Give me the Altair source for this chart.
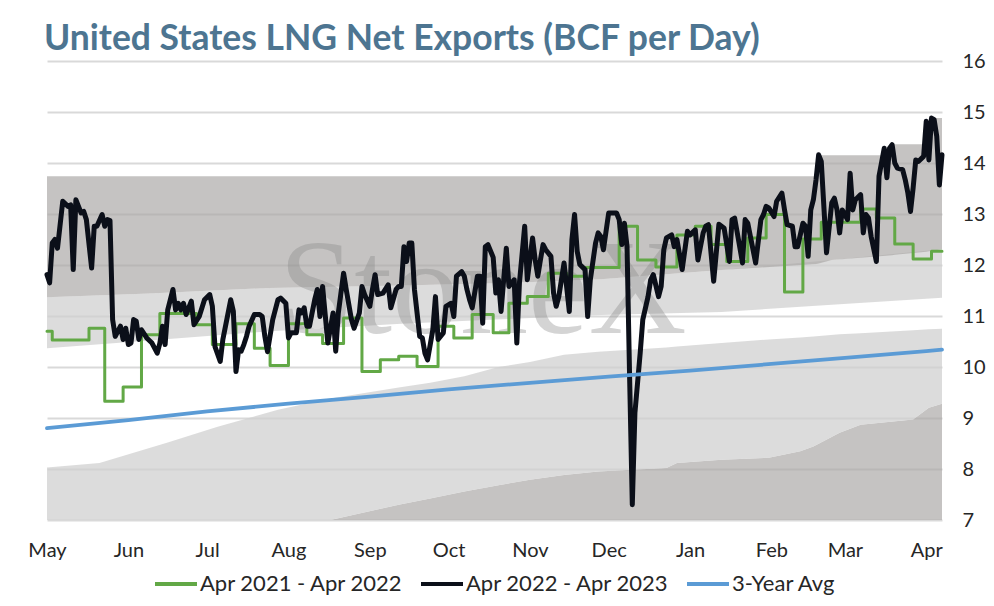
import altair as alt
import pandas as pd

BASE = pd.Timestamp("2022-05-01")

def to_dates(days):
    return [BASE + pd.Timedelta(days=d) for d in days]

# ---------------- series (day offsets from 1 May 2022) ----------------
black_day = [0, 1, 2, 3, 4, 6, 8, 9, 10, 11, 12, 13, 14, 15, 17, 18, 19, 21, 22, 23, 24, 25, 26, 28, 29, 30,
             31, 32, 33, 34, 35, 36, 38, 40, 42, 43, 44, 45, 46, 48, 49, 50, 51, 52, 53, 55, 56, 58, 60, 62,
             63, 64, 66, 67, 69, 70, 71, 72, 73, 74, 75, 76, 77, 79, 81, 82, 83, 84, 86, 88, 89, 91, 92, 93,
             95, 96, 97, 98, 99, 100, 102, 103, 104, 105, 107, 109, 110, 111, 113, 114, 116, 117, 119, 120,
             121, 123, 124, 125, 126, 128, 130, 131, 133, 134, 135, 136, 137, 138, 139, 140, 142, 143, 144,
             145, 147, 148, 149, 151, 152, 154, 155, 156, 158, 159, 160, 161, 162, 164, 165, 166, 167, 168,
             170, 171, 172, 173, 175, 176, 178, 179, 180, 182, 183, 185, 186, 187, 188, 189, 190, 192, 193,
             194, 195, 197, 199, 200, 201, 202, 203, 205, 206, 207, 209, 210, 211, 212, 214, 215, 217, 218,
             219, 220, 221, 222, 223, 224, 226, 227, 229, 230, 231, 233, 234, 235, 236, 238, 239, 240, 242,
             244, 245, 247, 248, 250, 251, 252, 254, 256, 258, 260, 261, 262, 263, 265, 266, 267, 270, 272,
             273, 274, 275, 277, 278, 280, 281, 282, 284, 285, 286, 288, 289, 290, 291, 292, 293, 294, 295,
             297, 299, 300, 301, 302, 303, 305, 306, 307, 308, 310, 311, 312, 313, 314, 316, 317, 319, 320,
             321, 322, 323, 324, 326, 327, 328, 329, 330, 331, 332, 334, 335, 336, 337, 338, 339, 340, 341]
black_val = [11.81, 11.65, 12.43, 12.50, 12.33, 13.25, 13.15, 13.18, 11.91, 13.28, 13.15, 13.02, 13.05, 12.89,
             11.94, 12.76, 12.76, 12.99, 12.76, 12.89, 12.87, 10.93, 10.60, 10.80, 10.54, 10.76, 10.44, 10.47,
             10.93, 10.90, 10.54, 10.73, 10.57, 10.47, 10.27, 10.47, 10.80, 10.44, 11.12, 11.52, 11.12, 11.25,
             11.12, 11.25, 11.03, 11.29, 10.83, 10.99, 11.32, 11.42, 11.19, 10.40, 10.11, 10.54, 11.06, 11.32,
             11.09, 9.91, 10.34, 10.31, 10.44, 10.60, 10.80, 11.03, 11.03, 10.99, 10.60, 10.30, 10.93, 11.32,
             11.35, 11.25, 10.57, 10.67, 10.67, 11.12, 11.06, 11.16, 10.80, 10.80, 11.32, 11.52, 10.99, 11.58,
             10.47, 11.06, 10.31, 11.06, 11.84, 11.52, 10.93, 10.76, 11.06, 11.58, 11.42, 11.19, 11.52, 11.81,
             11.42, 11.45, 11.61, 11.16, 11.52, 11.58, 11.58, 12.36, 12.07, 12.43, 12.43, 11.52, 10.60, 10.57,
             10.27, 10.14, 10.73, 11.38, 10.54, 10.67, 11.19, 11.25, 10.99, 11.78, 11.87, 11.78, 11.52, 11.32,
             11.16, 11.78, 11.78, 10.86, 12.36, 12.40, 12.15, 11.45, 11.71, 11.09, 12.33, 11.58, 11.71, 10.47,
             11.65, 12.76, 11.71, 12.53, 12.10, 11.78, 12.10, 12.40, 12.30, 12.17, 11.45, 11.19, 11.38, 12.04,
             11.09, 12.50, 12.99, 12.27, 12.01, 11.91, 10.99, 11.71, 12.43, 12.63, 12.56, 12.30, 13.02, 13.02,
             13.02, 12.89, 12.40, 12.82, 12.36, 9.75, 7.30, 9.10, 10.27, 10.93, 11.38, 11.71, 11.81, 11.38,
             11.58, 12.30, 12.53, 12.59, 12.36, 12.50, 11.91, 12.66, 12.59, 12.69, 12.10, 12.63, 12.76, 12.79,
             11.68, 12.80, 12.72, 12.07, 12.89, 12.92, 12.63, 12.04, 12.89, 12.82, 12.04, 12.89, 12.99, 13.15,
             13.12, 12.95, 13.25, 13.41, 13.08, 12.79, 12.76, 12.36, 12.36, 12.82, 12.76, 12.17, 13.08, 13.28,
             13.67, 14.16, 14.03, 12.24, 13.22, 13.31, 13.08, 12.63, 13.08, 12.89, 13.80, 13.08, 13.28, 13.38,
             12.63, 12.99, 12.92, 12.56, 12.07, 13.74, 14.29, 13.71, 14.29, 14.36, 14.00, 13.90, 13.87, 13.67,
             13.41, 13.05, 13.51, 14.06, 14.03, 14.13, 14.82, 14.06, 14.88, 14.85, 14.52, 13.57, 14.16]

green_day = [0, 2, 16, 22, 29, 36, 43, 57, 63, 72, 79, 85, 92, 99, 105, 113, 120, 127, 134, 141, 149, 155,
             162, 170, 176, 183, 191, 198, 205, 218, 225, 232, 240, 247, 253, 259, 267, 274, 281, 288, 295,
             310, 316, 323, 330, 337, 341]
green_val = [10.70, 10.53, 10.76, 9.33, 9.61, 10.63, 11.05, 10.83, 10.44, 10.85, 10.37, 10.03, 10.85, 10.63,
             10.46, 10.96, 9.91, 10.14, 10.21, 10.01, 10.80, 10.57, 11.03, 10.67, 11.25, 11.38, 11.84, 11.78,
             11.95, 12.76, 12.10, 11.96, 12.59, 12.76, 12.40, 12.07, 12.53, 12.99, 11.47, 12.51, 12.84, 13.10,
             12.92, 12.41, 12.12, 12.27, 12.27]

blue_day = [0, 31, 61, 92, 123, 153, 184, 214, 245, 276, 304, 335, 341]
blue_val = [8.80, 8.96, 9.13, 9.28, 9.42, 9.56, 9.69, 9.81, 9.93, 10.06, 10.18, 10.31, 10.34]

# ---------------- shaded range bands ----------------
low_day = [0, 20, 46, 65, 88, 108, 134, 146, 159, 172, 184, 197, 210, 236, 240, 257, 275, 287, 292, 302,
           310, 330, 336, 341]
low_b1 = [7.0, 7.0, 7.0, 7.0, 7.0, 7.0, 7.30, 7.42, 7.56, 7.68, 7.79, 7.88, 7.95, 8.02, 8.12, 8.18, 8.22,
          8.35, 8.44, 8.71, 8.87, 8.97, 9.20, 9.28]
low_b2 = [8.03, 8.12, 8.52, 8.83, 9.16, 9.38, 9.60, 9.69, 9.82, 10.00, 10.10, 10.24, 10.30, 10.38, 10.40,
          10.47, 10.54, 10.58, 10.60, 10.64, 10.66, 10.72, 10.74, 10.75]

up_day = [0, 39, 85, 135, 171, 211, 257, 299, 341]
up_b3 = [10.37, 10.52, 10.70, 10.85, 10.93, 11.02, 11.08, 11.22, 11.36]
up_b4 = [11.37, 11.44, 11.55, 11.60, 11.64, 11.72, 11.90, 12.10, 12.31]

top_day = [0, 39, 85, 135, 171, 211, 257, 293, 294, 299, 322, 323, 335, 336, 341]
top_b4 = [11.37, 11.44, 11.55, 11.60, 11.64, 11.72, 11.90, 12.02, 12.03, 12.10, 12.19, 12.20, 12.26, 12.27, 12.31]
top_b5 = [13.74, 13.74, 13.74, 13.74, 13.74, 13.74, 13.74, 13.74, 14.15, 14.15, 14.15, 14.37, 14.37, 14.88, 14.88]

series_names = ["Apr 2021 - Apr 2022", "Apr 2022 - Apr 2023", "3-Year Avg"]
series_colors = ["#62a846", "#0b0f19", "#5b9bd5"]
series_widths = [3, 5, 3.8]
month_ticks = [(2022, m) for m in range(5, 13)] + [(2023, m) for m in range(1, 5)]

# ---------------- tables ----------------
df_black = pd.DataFrame({"date": to_dates(black_day), "v": black_val, "series": series_names[1]})
df_green = pd.DataFrame({"date": to_dates(green_day), "v": green_val, "series": series_names[0]})
df_blue = pd.DataFrame({"date": to_dates(blue_day), "v": blue_val, "series": series_names[2]})

df_low = pd.DataFrame({"date": to_dates(low_day), "lo": low_b1, "hi": low_b2})
df_bot = df_low[df_low["date"] >= BASE + pd.Timedelta(days=108)].copy()
df_bot["hi"] = df_bot["lo"]
df_bot["lo"] = 7.0
df_up = pd.DataFrame({"date": to_dates(up_day), "lo": up_b3, "hi": up_b4})
df_top = pd.DataFrame({"date": to_dates(top_day), "lo": top_b4, "hi": top_b5})
df_wm = pd.DataFrame({"date": [BASE + pd.Timedelta(days=166)], "v": [10.66]})

DARK, DARK_OP = "#a9a7a5", 0.68
LIGHT, LIGHT_OP = "#d0d0d0", 0.74

x_enc = alt.X(
    "date:T",
    title=None,
    scale=alt.Scale(domain=[alt.DateTime(year=2022, month=5, date=1),
                            alt.DateTime(year=2023, month=4, date=7)], nice=False),
    axis=alt.Axis(values=[alt.DateTime(year=y, month=m, date=1) for y, m in month_ticks],
                  format="%b", labelAlign="center", grid=False, domain=False, ticks=False,
                  labelPadding=20, labelFlush=False),
)
y_scale = alt.Scale(domain=[7, 16], nice=False, zero=False)
y_axis = alt.Axis(orient="right", values=list(range(7, 17)), grid=True, gridColor="#d9d9d9",
                  gridWidth=2, domain=False, ticks=False, labelPadding=20, labelAlign="left")


def band(df, color, op):
    return alt.Chart(df).mark_area(color=color, opacity=op, interpolate="linear").encode(
        x=x_enc,
        y=alt.Y("hi:Q", scale=y_scale, axis=y_axis, title=None),
        y2="lo:Q",
    )


color_scale = alt.Scale(domain=series_names, range=series_colors)


def line(df, width, **kw):
    return alt.Chart(df).mark_line(strokeJoin="round", strokeCap="round", strokeWidth=width, **kw).encode(
        x="date:T",
        y=alt.Y("v:Q", scale=y_scale, title=None),
        color=alt.Color("series:N", scale=color_scale,
                        legend=alt.Legend(title=None, orient="none", legendX=106, legendY=500,
                                          direction="horizontal")),
    )


watermark = alt.Chart(df_wm).mark_text(
    text="StoneX", font="Liberation Serif", fontSize=136, color="#858585", opacity=0.35,
    align="center", baseline="alphabetic",
).encode(x="date:T", y=alt.Y("v:Q", scale=y_scale, title=None))

chart = alt.layer(
    band(df_bot, DARK, DARK_OP),
    band(df_low, LIGHT, LIGHT_OP),
    band(df_up, LIGHT, LIGHT_OP),
    band(df_top, DARK, DARK_OP),
    watermark,
    line(df_green, series_widths[0], interpolate="step-after"),
    line(df_black, series_widths[1]),
    line(df_blue, series_widths[2]),
).properties(
    width=895,
    height=459,
    autosize=alt.AutoSizeParams(type="none"),
    padding={"left": 39, "top": 53, "right": 44, "bottom": 78},
    title=alt.TitleParams(
        text="United States LNG Net Exports (BCF per Day)", anchor="start", frame="group",
        font="Lato", fontSize=35.5, fontWeight="bold", color="#4d7591", offset=-34, dx=-3,
        baseline="alphabetic",
    ),
).configure_view(stroke=None).configure_axis(
    labelFont="Lato", labelFontSize=20, labelColor="#262626"
).configure_legend(
    symbolType="stroke", symbolSize=1764, symbolStrokeWidth=4,
    labelFont="Lato", labelFontSize=22, labelColor="#262626", labelOffset=1, labelLimit=400,
    columnPadding=9, padding=0,
)

chart.save("out.html", embed_options={"renderer": "svg", "actions": False})
